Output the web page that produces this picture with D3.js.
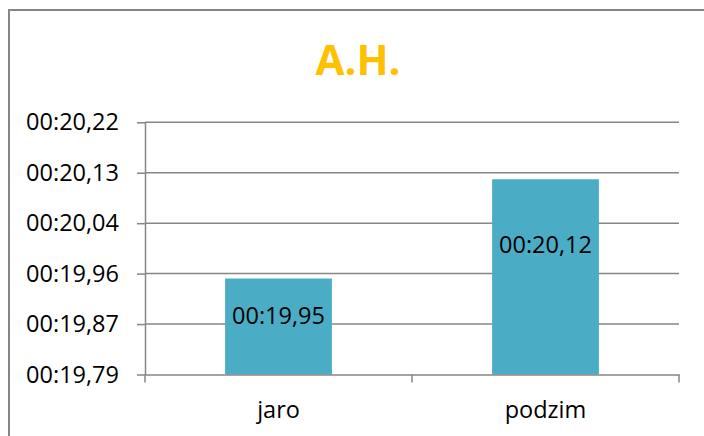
<!DOCTYPE html>
<html>
<head>
<meta charset="utf-8">
<script src="https://cdn.jsdelivr.net/npm/d3@7/dist/d3.min.js"></script>
<style>
  html, body { margin: 0; padding: 0; background: #fff; }
  svg { display: block; }
</style>
</head>
<body>
<svg id="chart" width="704" height="436"></svg>
<script>
// ---- data ----
const title = "A.H.";
const categories = ["jaro", "podzim"];
const values = [19.95, 20.12];               // seconds
const valueLabels = ["00:19,95", "00:20,12"];
const axisMin = 19.7856;                      // 0.000229 day in seconds
const axisStep = 0.0864;                      // 0.000001 day in seconds
const tickLabels = ["00:19,79", "00:19,87", "00:19,96", "00:20,04", "00:20,13", "00:20,22"];

// ---- layout ----
const W = 704, H = 436;
const plot = { left: 145, right: 679, top: 122.3, bottom: 374.5 };
const gridColor = "#868686";
const barColor = "#4BACC6";
const font = "'Open Sans', sans-serif";
const fs = 23.5;

const svg = d3.select("#chart");

// outer chart border (extends beyond window on right/bottom)
svg.append("rect")
  .attr("x", 9).attr("y", 10)
  .attr("width", W + 20).attr("height", H + 20)
  .attr("fill", "#fff")
  .attr("stroke", gridColor).attr("stroke-width", 2);

const tickValues = tickLabels.map((_, i) => axisMin + i * axisStep);
const y = d3.scaleLinear()
  .domain([axisMin, tickValues[tickValues.length - 1]])
  .range([plot.bottom, plot.top]);

const x = d3.scaleBand()
  .domain(categories)
  .range([plot.left, plot.right])
  .paddingInner(0.6)
  .paddingOuter(0.3);

// gridlines
svg.append("g").selectAll("line")
  .data(tickValues.slice(1))
  .join("line")
  .attr("x1", plot.left).attr("x2", plot.right)
  .attr("y1", d => y(d)).attr("y2", d => y(d))
  .attr("stroke", gridColor).attr("stroke-width", 1.5);

// bars
svg.append("g").selectAll("rect")
  .data(values)
  .join("rect")
  .attr("x", (d, i) => x(categories[i]))
  .attr("width", x.bandwidth())
  .attr("y", d => y(d))
  .attr("height", d => plot.bottom - y(d))
  .attr("fill", barColor);

// value labels
const labelDy = [36.5, 64.5];
svg.append("g").selectAll("text")
  .data(values)
  .join("text")
  .attr("x", (d, i) => x(categories[i]) + x.bandwidth() / 2)
  .attr("y", (d, i) => y(d) + labelDy[i])
  .attr("text-anchor", "middle")
  .attr("dominant-baseline", "central")
  .attr("font-family", font)
  .attr("font-size", fs)
  .attr("fill", "#000")
  .text((d, i) => valueLabels[i]);

// y axis
const yAxis = d3.axisLeft(y)
  .tickValues(tickValues)
  .tickFormat((d, i) => tickLabels[i])
  .tickSize(8)
  .tickPadding(18)
  .tickSizeOuter(0);
const gy = svg.append("g")
  .attr("transform", `translate(${plot.left},0)`)
  .call(yAxis);
gy.select(".domain").attr("stroke", gridColor).attr("stroke-width", 1.5);
gy.selectAll(".tick line").attr("stroke", gridColor).attr("stroke-width", 1.5);
gy.selectAll(".tick text")
  .attr("font-family", font).attr("font-size", fs).attr("fill", "#000");

// x axis
const xAxis = d3.axisBottom(x).tickSize(0).tickPadding(27).tickSizeOuter(0);
const gx = svg.append("g")
  .attr("transform", `translate(0,${plot.bottom})`)
  .call(xAxis);
gx.select(".domain").attr("stroke", gridColor).attr("stroke-width", 1.5);
gx.selectAll(".tick text")
  .attr("font-family", font).attr("font-size", fs).attr("fill", "#000");

// x boundary tick marks
const bounds = [plot.left, ...categories.map(c => x(c) + x.bandwidth() / 2 + x.step() / 2)];
gx.append("g").selectAll("line")
  .data(bounds)
  .join("line")
  .attr("x1", d => d).attr("x2", d => d)
  .attr("y1", 0).attr("y2", 8)
  .attr("stroke", gridColor).attr("stroke-width", 1.5);

// title
svg.append("text")
  .attr("x", 358).attr("y", 75)
  .attr("text-anchor", "middle")
  .attr("font-family", font)
  .attr("font-weight", "bold")
  .attr("font-size", 42)
  .attr("fill", "#FFC000")
  .text(title);
</script>
</body>
</html>
